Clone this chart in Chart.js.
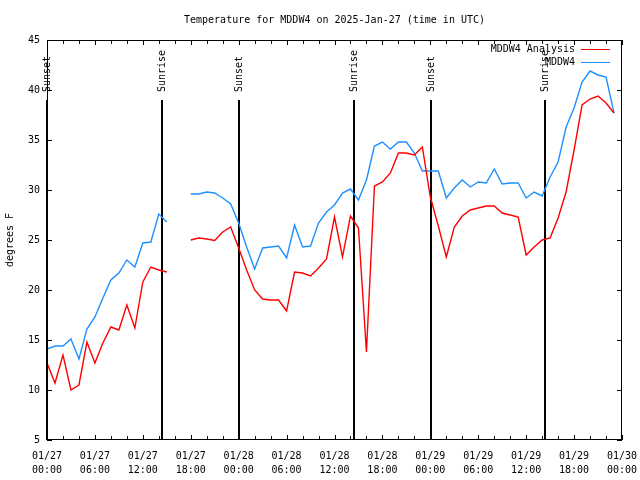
<!DOCTYPE html>
<html><head><meta charset="utf-8">
<script src="https://cdn.jsdelivr.net/npm/chart.js@4/dist/chart.umd.min.js"></script>
<style>html,body{margin:0;padding:0;background:#fff}</style>
</head><body>
<canvas id="c" width="640" height="480"></canvas>
<script>
const chartTitle = 'Temperature for MDDW4 on 2025-Jan-27 (time in UTC)';
const yTitle = 'degrees F';
// hours since 01/27 00:00 UTC
const hours = [0,1,2,3,4,5,6,7,8,9,10,11,12,13,14,15,16,17,18,19,20,21,22,23,
  24,25,26,27,28,29,30,31,32,33,34,35,36,37,38,39,40,41,42,43,44,45,46,47,
  48,49,50,51,52,53,54,55,56,57,58,59,60,61,62,63,64,65,66,67,68,69,70,71];
const analysis = [12.7,10.7,13.5,10.0,10.5,14.8,12.7,14.7,16.3,16.0,18.5,16.2,20.8,22.3,22.0,21.8,null,null,
  25.0,25.2,25.1,24.95,25.8,26.3,24.2,22.0,20.0,19.1,19.0,19.0,17.9,21.8,21.7,21.4,22.2,23.1,
  27.3,23.3,27.4,26.2,13.8,30.4,30.8,31.7,33.7,33.7,33.5,34.3,29.3,26.4,23.3,26.3,27.4,28.0,
  28.2,28.4,28.4,27.7,27.5,27.3,23.5,24.3,25.0,25.2,27.2,29.8,34.0,38.5,39.1,39.4,38.7,37.7];
const observed = [14.1,14.4,14.4,15.1,13.1,16.1,17.3,19.2,21.0,21.7,23.0,22.3,24.7,24.8,27.6,26.8,null,null,
  29.6,29.6,29.8,29.7,29.2,28.6,26.7,24.3,22.1,24.2,24.3,24.4,23.2,26.5,24.3,24.4,26.7,27.8,
  28.5,29.7,30.1,29.0,31.0,34.4,34.8,34.1,34.8,34.8,33.7,31.9,31.9,31.9,29.2,30.2,31.0,30.3,
  30.8,30.7,32.1,30.6,30.7,30.7,29.2,29.8,29.4,31.3,32.8,36.3,38.2,40.8,41.9,41.5,41.3,37.7];
const seriesNames = ['MDDW4 Analysis','MDDW4'];
const seriesColors = ['#ff0000','#1e90ff'];
const tickHours = [0,6,12,18,24,30,36,42,48,54,60,66,72];
const tickLabels = [['01/27','00:00'],['01/27','06:00'],['01/27','12:00'],['01/27','18:00'],
  ['01/28','00:00'],['01/28','06:00'],['01/28','12:00'],['01/28','18:00'],
  ['01/29','00:00'],['01/29','06:00'],['01/29','12:00'],['01/29','18:00'],['01/30','00:00']];
const sunHours = [0, 14.4, 24.0, 38.4, 48.05, 62.35];
const sunNames = ['Sunset','Sunrise','Sunset','Sunrise','Sunset','Sunrise'];

const FONT = '10px "DejaVu Sans Mono", "Liberation Mono", monospace';

const decor = {
  id: 'decor',
  beforeDatasetsDraw(chart) {
    const ctx = chart.ctx, a = chart.chartArea, xs = chart.scales.x;
    ctx.save();
    ctx.strokeStyle = '#000'; ctx.lineWidth = 2;
    ctx.font = FONT; ctx.fillStyle = '#000';
    sunHours.forEach((h, i) => {
      const x = Math.round(xs.getPixelForValue(h));
      ctx.beginPath(); ctx.moveTo(x, 100); ctx.lineTo(x, a.bottom); ctx.stroke();
      ctx.save(); ctx.translate(x, 92); ctx.rotate(-Math.PI / 2);
      ctx.textAlign = 'left'; ctx.textBaseline = 'middle';
      ctx.fillText(sunNames[i], 0, 0); ctx.restore();
    });
    ctx.restore();
  },
  afterDraw(chart) {
    const ctx = chart.ctx, a = chart.chartArea, xs = chart.scales.x, ys = chart.scales.y;
    ctx.save();
    ctx.strokeStyle = '#000'; ctx.lineWidth = 1;
    ctx.strokeRect(Math.round(a.left) + 0.5, Math.round(a.top) + 0.5, Math.round(a.right - a.left) - 1, Math.round(a.bottom - a.top) - 1);
    ctx.beginPath();
    for (let h = 0; h <= 72; h += 2) {
      const x = Math.round(xs.getPixelForValue(h)) + 0.5;
      const len = (h % 6 === 0) ? 5 : 4;
      ctx.moveTo(x, a.bottom); ctx.lineTo(x, a.bottom - len);
      ctx.moveTo(x, a.top); ctx.lineTo(x, a.top + len);
    }
    for (let v = 5; v <= 45; v += 5) {
      const y = Math.round(ys.getPixelForValue(v)) + 0.5;
      ctx.moveTo(a.left, y); ctx.lineTo(a.left + 5, y);
      ctx.moveTo(a.right, y); ctx.lineTo(a.right - 5, y);
    }
    ctx.stroke();
    ctx.font = FONT; ctx.fillStyle = '#000';
    ctx.textAlign = 'center'; ctx.textBaseline = 'middle';
    ctx.fillText(chartTitle, (a.left + a.right) / 2, 20);
    ctx.save(); ctx.translate(10, (a.top + a.bottom) / 2); ctx.rotate(-Math.PI / 2);
    ctx.fillText(yTitle, 0, 0); ctx.restore();
    seriesNames.forEach((n, i) => {
      const y = 49 + i * 13;
      ctx.textAlign = 'right'; ctx.fillStyle = '#000';
      ctx.fillText(n, 575, y);
      ctx.strokeStyle = seriesColors[i]; ctx.lineWidth = 1;
      ctx.beginPath(); ctx.moveTo(581, y + 0.5); ctx.lineTo(610, y + 0.5); ctx.stroke();
    });
    ctx.restore();
  }
};

new Chart(document.getElementById('c'), {
  type: 'line',
  data: {
    datasets: [analysis, observed].map((arr, i) => ({
      label: seriesNames[i],
      data: hours.map((h, j) => ({x: h, y: arr[j]})),
      borderColor: seriesColors[i],
      borderWidth: 1.4,
      pointRadius: 0,
      tension: 0,
      spanGaps: false,
      fill: false
    }))
  },
  options: {
    responsive: false, animation: false, devicePixelRatio: 1,
    layout: {padding: {top: 40, right: 18, left: 0, bottom: 0}},
    plugins: {legend: {display: false}, title: {display: false}, tooltip: {enabled: false}},
    scales: {
      x: {
        type: 'linear', min: 0, max: 72,
        afterFit(s) { s.height = 40; s.paddingLeft = 0; s.paddingRight = 0; },
        afterBuildTicks(s) { s.ticks = tickHours.map(v => ({value: v})); },
        grid: {display: false, drawTicks: false},
        border: {display: false},
        ticks: {
          autoSkip: false, maxRotation: 0, padding: 9, color: '#000',
          font: {family: '"DejaVu Sans Mono", monospace', size: 10, lineHeight: 1.4},
          callback(v) { const k = tickHours.indexOf(v); return k >= 0 ? tickLabels[k] : ''; }
        }
      },
      y: {
        type: 'linear', min: 5, max: 45,
        afterFit(s) { s.width = 47; s.paddingTop = 0; s.paddingBottom = 0; },
        grid: {display: false, drawTicks: false},
        border: {display: false},
        ticks: {stepSize: 5, padding: 7, color: '#000',
          font: {family: '"DejaVu Sans Mono", monospace', size: 10}}
      }
    }
  },
  plugins: [decor]
});
</script>
</body></html>
